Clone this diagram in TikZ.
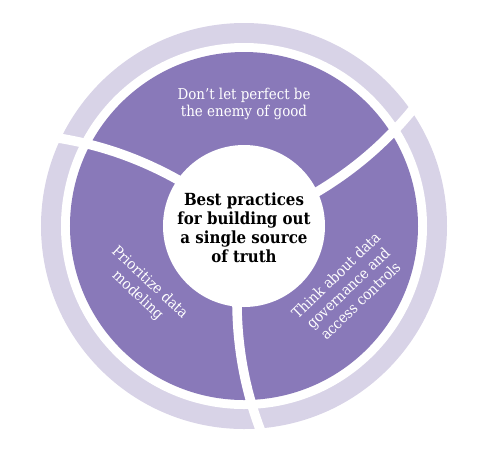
\documentclass[tikz,border=0pt]{standalone}
\usepackage{fontspec}
\setmainfont{DejaVu Serif Condensed}
\definecolor{ringpurple}{HTML}{8979B9}
\definecolor{ringlight}{HTML}{D8D3E7}
\begin{document}
\begin{tikzpicture}[x=0.02cm,y=0.02cm,
  gapline/.style={white, line width=0.19cm},
  label/.style={text=white, font=\fontsize{8.5}{10}\selectfont, align=center, inner sep=0pt},
  corelabel/.style={text=black, font=\bfseries\fontsize{9.5}{10.8}\selectfont, align=center, inner sep=0pt}]
\useasboundingbox (-244,-232) rectangle (256,226);
\fill[ringlight] (0,0) circle (203);
\fill[white] (0,0) circle (183);
\fill[ringpurple] (0,0) circle (174);
\foreach \a in {0,120,240}{
  \draw[gapline, rotate=\a] (-7.5,-60) -- (-7,-81) .. controls (-6,-140) and (8,-185) .. (22,-218);
}
\fill[white] (0,0) circle (81);
\node[corelabel] (core) at (0,-2) {Best practices\\for building out\\a single source\\of truth};
\node[label, font=\fontsize{8.5}{9.2}\selectfont] (top) at (0,122) {Don’t let perfect be\\the enemy of good};
\node[label, rotate=-43] (left) at (-100.5,-63) {Prioritize data\\modeling};
\node[label, rotate=44] (right) at (104,-62) {Think about data\\governance and\\access controls};
\end{tikzpicture}
\end{document}
